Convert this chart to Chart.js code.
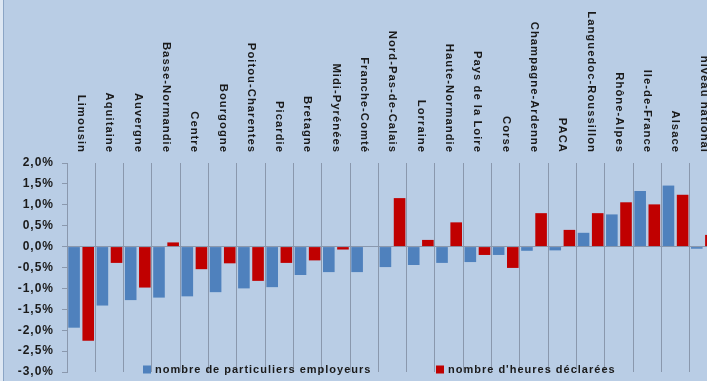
<!DOCTYPE html>
<html lang="fr">
<head>
<meta charset="utf-8">
<script src="https://cdn.jsdelivr.net/npm/chart.js@4.4.1/dist/chart.umd.min.js"></script>
<style>
  html, body { margin: 0; padding: 0; overflow: hidden; background: #b9cde5; }
  #wrap { position: absolute; left: 0; top: 0; width: 718px; height: 381px; }
  #edge { position: absolute; left: 0; top: 0; width: 3px; height: 381px; background: #dde7f3; border-right: 1px solid #8ba5c5; z-index: 2; }
</style>
</head>
<body>
<div id="edge"></div>
<div id="wrap"><canvas id="chart" width="718" height="381"></canvas></div>
<script>
const regions = [
  'Limousin', 'Aquitaine', 'Auvergne', 'Basse-Normandie', 'Centre', 'Bourgogne',
  'Poitou-Charentes', 'Picardie', 'Bretagne', 'Midi-Pyrénées', 'Franche-Comté',
  'Nord-Pas-de-Calais', 'Lorraine', 'Haute-Normandie', 'Pays de la Loire', 'Corse',
  'Champagne-Ardenne', 'PACA', 'Languedoc-Roussillon', 'Rhône-Alpes', 'Ile-de-France',
  'Alsace', 'niveau national'
];
const employeurs = [-1.94, -1.41, -1.28, -1.22, -1.19, -1.09, -1.00, -0.97, -0.68, -0.61, -0.61,
  -0.49, -0.44, -0.39, -0.37, -0.20, -0.10, -0.09, 0.33, 0.77, 1.33, 1.46, -0.05];
const heures = [-2.25, -0.39, -0.98, 0.10, -0.54, -0.40, -0.82, -0.39, -0.33, -0.07, 0,
  1.16, 0.16, 0.58, -0.20, -0.51, 0.80, 0.40, 0.80, 1.06, 1.01, 1.24, 0.28];
const seriesNames = ['nombre de particuliers employeurs', "nombre d'heures déclarées"];
const yMin = -3, yMax = 2, yStep = 0.5;

const gray = '#8a98ad';
const textColor = '#1a1a1a';
const font = '"Liberation Sans", Arial, sans-serif';

const fmtPct = v => v.toFixed(1).replace('.', ',') + '%';

// labels above the plot (read top to bottom) and the legend inside the plot bottom
const extras = {
  id: 'extras',
  beforeDraw(chart) {
    chart.ctx.letterSpacing = '1px';
  },
  afterDraw(chart) {
    const { ctx, chartArea, scales: { x } } = chart;
    ctx.save();
    ctx.letterSpacing = '1px';
    ctx.font = 'bold 11.3px ' + font;
    ctx.fillStyle = textColor;
    ctx.textAlign = 'right';
    ctx.textBaseline = 'middle';
    chart.data.labels.forEach((label, i) => {
      ctx.save();
      ctx.translate(x.getPixelForValue(i), chartArea.top - 10);
      ctx.rotate(Math.PI / 2);
      ctx.fillText(label, 0, 0);
      ctx.restore();
    });

    const legendX = [143, 436];
    const legendY = 369.5;
    ctx.font = 'bold 11px ' + font;
    ctx.textAlign = 'left';
    chart.data.datasets.forEach((ds, i) => {
      ctx.fillStyle = ds.backgroundColor;
      ctx.fillRect(legendX[i], legendY - 4, 8, 8);
      ctx.fillStyle = textColor;
      ctx.fillText(ds.label, legendX[i] + 12, legendY);
    });
    ctx.restore();
  }
};

new Chart(document.getElementById('chart'), {
  type: 'bar',
  data: {
    labels: regions,
    datasets: [
      { label: seriesNames[0], data: employeurs, backgroundColor: '#4f81bd' },
      { label: seriesNames[1], data: heures, backgroundColor: '#c00000' }
    ]
  },
  options: {
    responsive: false,
    animation: false,
    devicePixelRatio: 1,
    categoryPercentage: 1.0,
    barPercentage: 0.82,
    layout: { padding: { top: 163, bottom: 9, left: 0, right: 0 } },
    plugins: {
      legend: { display: false },
      tooltip: { enabled: false }
    },
    scales: {
      x: {
        afterFit: s => { s.height = 0; },
        grid: { offset: true, color: gray, drawTicks: false },
        border: { display: false },
        ticks: { display: false }
      },
      y: {
        min: yMin,
        max: yMax,
        afterFit: s => { s.width = 67; s.paddingTop = 0; s.paddingBottom = 0; },
        ticks: {
          stepSize: yStep,
          padding: 8,
          color: textColor,
          font: { family: font, size: 12, weight: 'bold' },
          callback: v => fmtPct(v)
        },
        grid: {
          color: c => (c.tick && c.tick.value === 0 ? gray : 'transparent'),
          tickColor: gray,
          tickLength: 5
        },
        border: { color: gray }
      }
    }
  },
  plugins: [extras]
});
</script>
</body>
</html>
